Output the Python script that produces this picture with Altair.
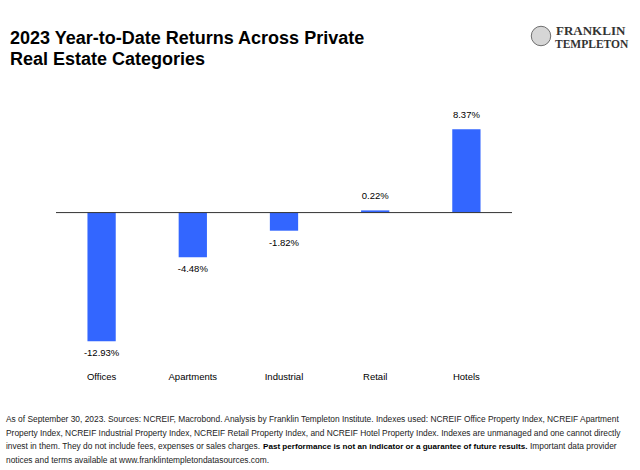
import altair as alt
import pandas as pd

categories = ["Offices", "Apartments", "Industrial", "Retail", "Hotels"]
returns = [-12.93, -4.48, -1.82, 0.22, 8.37]
value_labels = ["-12.93%", "-4.48%", "-1.82%", "0.22%", "8.37%"]

title_lines = ["2023 Year-to-Date Returns Across Private", "Real Estate Categories"]
logo_lines = ["FRANKLIN", "TEMPLETON"]
note_line1 = ("As of September 30, 2023. Sources: NCREIF, Macrobond. Analysis by Franklin Templeton Institute. "
              "Indexes used: NCREIF Office Property Index, NCREIF Apartment")
note_line2 = ("Property Index, NCREIF Industrial Property Index, NCREIF Retail Property Index, and NCREIF Hotel "
              "Property Index. Indexes are unmanaged and one cannot directly")
note_line3a = "invest in them. They do not include fees, expenses or sales charges."
note_line3b = "Past performance is not an indicator or a guarantee of future results."
note_line3c = "Important data provider"
note_line4 = "notices and terms available at www.franklintempletondatasources.com."

W, H = 456, 239
PAD_L, PAD_T = 56, 113
BAR_COLOR = "#3366FF"
FONT = "Liberation Sans"
YDOM = [-14, 10]

df = pd.DataFrame({"category": categories, "ret": returns, "label": value_labels})

x = alt.X("category:N", sort=categories,
          scale=alt.Scale(paddingInner=0.69, paddingOuter=0.345),
          axis=alt.Axis(title=None, domain=False, ticks=False, labelAngle=0,
                        labelPadding=19, labelFontSize=9.5, labelColor="#000000",
                        labelFont=FONT))
y = alt.Y("ret:Q", scale=alt.Scale(domain=YDOM, nice=False, zero=True), axis=None)

base = alt.Chart(df)
bars = base.mark_bar(color=BAR_COLOR).encode(x=x, y=y)
zero = alt.Chart(pd.DataFrame({"z": [0]})).mark_rule(color="#333333", strokeWidth=1).encode(
    y=alt.Y("z:Q", scale=alt.Scale(domain=YDOM, nice=False), axis=None))
lab_pos = base.transform_filter("datum.ret >= 0").mark_text(
    dy=-9, fontSize=9.5, font=FONT, color="#000000", baseline="bottom").encode(
    x=x, y=y, text="label:N")
lab_neg = base.transform_filter("datum.ret < 0").mark_text(
    dy=7, fontSize=9.5, font=FONT, color="#000000", baseline="top").encode(
    x=x, y=y, text="label:N")

one = pd.DataFrame({"a": [0]})


def txt(s, xp, yp, align="left", **kw):
    return alt.Chart(one).mark_text(text=s, align=align, baseline="alphabetic", **kw).encode(
        x=alt.value(xp - PAD_L), y=alt.value(yp - PAD_T))


layers = [bars, zero, lab_pos, lab_neg]
layers.append(txt(title_lines[0], 10, 43.5, font=FONT, fontSize=18, fontWeight="bold", color="#000000"))
layers.append(txt(title_lines[1], 10, 64.5, font=FONT, fontSize=18, fontWeight="bold", color="#000000"))

layers.append(alt.Chart(one).mark_point(shape="circle", filled=True, fill="#d6d6d6",
                                        stroke="#6f6f6f", strokeWidth=1, size=380, opacity=1).encode(
    x=alt.value(541 - PAD_L), y=alt.value(36 - PAD_T)))
layers.append(txt(logo_lines[0], 556, 34.5, font="Liberation Serif", fontSize=13, fontWeight="bold", color="#333333"))
layers.append(txt(logo_lines[1], 555, 47.5, font="Liberation Serif", fontSize=11.5, fontWeight="bold", color="#333333"))

NS = 8.4
for s, xp, yp in [(note_line1, 6, 422), (note_line2, 6, 435.5), (note_line3a, 6, 449),
                  (note_line4, 6, 462.5)]:
    layers.append(txt(s, xp, yp, font=FONT, fontSize=NS, color="#222222"))
layers.append(txt(note_line3b, 263, 449, font=FONT, fontSize=8.1, fontWeight="bold", color="#000000"))
layers.append(txt(note_line3c, 530, 449, font=FONT, fontSize=NS, color="#222222"))

chart = alt.layer(*layers).properties(
    width=W, height=H,
    autosize=alt.AutoSizeParams(type="none"),
    padding={"left": PAD_L, "top": PAD_T, "right": 640 - PAD_L - W, "bottom": 470 - PAD_T - H},
).configure_view(strokeWidth=0)

chart.save("out.html", embed_options={"renderer": "svg", "actions": False})
